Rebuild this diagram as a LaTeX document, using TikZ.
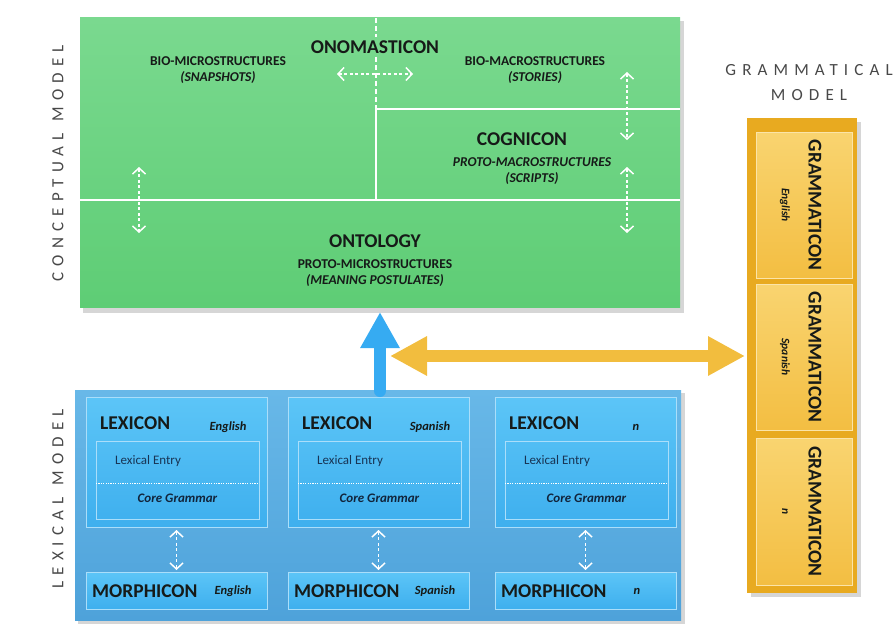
\documentclass[tikz,border=0pt]{standalone}
\usepackage{fontspec}
\setmainfont{Carlito}
\usetikzlibrary{arrows.meta}

\definecolor{greenT}{RGB}{122,217,143}
\definecolor{greenB}{RGB}{94,205,117}
\definecolor{blueOutT}{RGB}{104,184,232}
\definecolor{blueOutB}{RGB}{78,162,218}
\definecolor{blueInT}{RGB}{92,197,247}
\definecolor{blueInB}{RGB}{62,175,238}
\definecolor{blueEdge}{RGB}{170,222,250}
\definecolor{orangeOut}{RGB}{232,170,32}
\definecolor{orangeInT}{RGB}{249,212,112}
\definecolor{orangeInB}{RGB}{243,190,66}
\definecolor{orangeEdge}{RGB}{251,228,168}
\definecolor{orangeArrow}{RGB}{242,189,62}
\definecolor{blueArrow}{RGB}{54,171,242}
\definecolor{shadowGray}{RGB}{214,214,214}
\definecolor{labelGray}{RGB}{72,72,72}
\definecolor{ink}{RGB}{22,26,24}
\definecolor{navyInk}{RGB}{24,52,84}

\tikzset{
  rectnode/.style={inner sep=0pt, outer sep=0pt, anchor=north west, draw=none},
  title/.style={font=\bfseries\fontsize{19.5}{21}\selectfont, text=ink, inner sep=0pt},
  sub/.style={font=\bfseries\fontsize{13.5}{16}\selectfont, text=ink, align=center, inner sep=0pt},
  tag/.style={font=\bfseries\itshape\fontsize{12.5}{14}\selectfont, text=ink, inner sep=0pt},
  entry/.style={font=\fontsize{13}{15}\selectfont, text=navyInk, inner sep=0pt},
  sidelabel/.style={font=\fontsize{17}{25}\selectfont\addfontfeature{LetterSpace=36}, text=labelGray, inner sep=0pt, align=center},
  divider/.style={white, line width=2.2pt},
  dasharrow/.style={white, line width=1.5pt, dash pattern=on 3pt off 2.5pt,
    {Straight Barb[length=6pt,width=13pt,line width=1.5pt]}-{Straight Barb[length=6pt,width=13pt,line width=1.5pt]}},
  bluearrow/.style={blueArrow, line width=12pt, line cap=round, -{Triangle[length=36pt,width=37pt]}},
  orangearrow/.style={orangeArrow, line width=12pt, {Triangle[length=37pt,width=37pt]}-{Triangle[length=37pt,width=37pt]}},
}

\begin{document}
\begin{tikzpicture}[x=1pt,y=-1pt]
\useasboundingbox (0,0) rectangle (894,634);

% ---------- side labels ----------
\node[sidelabel, rotate=90] (lblcm) at (58,166) {CONCEPTUAL\hspace{0.7em}MODEL\kern-0.36em};
\node[sidelabel, rotate=90] (lbllm) at (58,502) {LEXICAL\hspace{0.7em}MODEL\kern-0.36em};
\node[sidelabel] (lblgm) at (806,83) {GRAMMATICAL\kern-0.36em\\MODEL\kern-0.36em};

% ---------- conceptual model ----------
\fill[shadowGray] (83,21) rectangle (684,313);
\node[rectnode, minimum width=600pt, minimum height=289pt, top color=greenT, bottom color=greenB] (concept) at (80,18) {};

\draw[divider] (80,200) -- (680,200);
\draw[divider] (376,200) -- (376,109) -- (680,109);
\draw[white, line width=2pt, dash pattern=on 5pt off 3pt] (376,18) -- (376,37);
\draw[white, line width=2pt, dash pattern=on 5pt off 3pt] (376,57) -- (376,109);

\node[title] (onom) at (375,47) {ONOMASTICON};
\node[sub] (biomic) at (218,70) {BIO-MICROSTRUCTURES\\\itshape (SNAPSHOTS)};
\node[sub] (biomac) at (535,70) {BIO-MACROSTRUCTURES\\\itshape (STORIES)};
\node[title] (cogn) at (522,139) {COGNICON};
\node[sub, font=\bfseries\itshape\fontsize{13.5}{16}\selectfont] (protomac) at (532,171) {PROTO-MACROSTRUCTURES\\(SCRIPTS)};
\node[title] (onto) at (375,241) {ONTOLOGY};
\node[sub] (protomic) at (375,273) {PROTO-MICROSTRUCTURES\\\itshape (MEANING POSTULATES)};

% dashed links inside the conceptual model
\coordinate (oL) at (337,74);
\coordinate (oR) at (413,74);
\draw[dasharrow] (oL) -- (oR);
\coordinate (r1t) at (627,72);
\coordinate (r1b) at (627,140);
\draw[dasharrow] (r1t) -- (r1b);
\coordinate (r2t) at (627,167);
\coordinate (r2b) at (627,233);
\draw[dasharrow] (r2t) -- (r2b);
\coordinate (l1t) at (139,167);
\coordinate (l1b) at (139,233);
\draw[dasharrow] (l1t) -- (l1b);

% ---------- lexical model ----------
\fill[shadowGray] (78,393) rectangle (685,624);
\node[rectnode, minimum width=606pt, minimum height=230pt, top color=blueOutT, bottom color=blueOutB] (lexmodel) at (75,390) {};

\foreach \i/\dx/\lang/\ldx/\mdx in {1/0/English/142/147, 2/202/Spanish/142/147, 3/409/n/141/142}{
  \node[rectnode, minimum width=181pt, minimum height=130pt, top color=blueInT, bottom color=blueInB, draw=blueEdge, line width=1pt] (lex\i) at (86+\dx,397) {};
  \node[rectnode, minimum width=163pt, minimum height=78pt, draw=blueEdge, line width=1pt] (core\i) at (96+\dx,441) {};
  \draw[white, line width=0.7pt, dash pattern=on 1.2pt off 1.2pt] (96+\dx,483) -- (259+\dx,483);
  \node[title, anchor=west] (lext\i) at (100+\dx,423) {LEXICON};
  \node[tag] (lexl\i) at (86+\ldx+\dx,427) {\lang};
  \node[entry, anchor=west] (entry\i) at (115+\dx,461) {Lexical Entry};
  \node[tag, font=\bfseries\itshape\fontsize{13}{15}\selectfont, text=navyInk!70!black] (cg\i) at (177.5+\dx,498) {Core Grammar};
  \node[rectnode, minimum width=181pt, minimum height=37pt, top color=blueInT, bottom color=blueInB, draw=blueEdge, line width=1pt] (morph\i) at (86+\dx,572) {};
  \node[title, anchor=west] (mort\i) at (92+\dx,591) {MORPHICON};
  \node[tag] (morl\i) at (86+\mdx+\dx,591) {\lang};
  \draw[dasharrow] ([yshift=-3pt]lex\i.south) -- ([yshift=2pt]morph\i.north);
}

% ---------- grammatical model ----------
\fill[shadowGray] (751,122) rectangle (861,597);
\node[rectnode, minimum width=110pt, minimum height=475pt, fill=orangeOut] (gram) at (747,118) {};
\foreach \i/\top/\h/\lang in {1/132/146/English, 2/284/146/Spanish, 3/438/147/n}{
  \node[rectnode, minimum width=96pt, minimum height=\h pt, top color=orangeInT, bottom color=orangeInB, draw=orangeEdge, line width=0.8pt] (gbox\i) at (756,\top) {};
  \node[title, rotate=-90] (gt\i) at (815,\top+\h/2) {GRAMMATICON};
  \node[tag, font=\bfseries\itshape\fontsize{11.5}{13}\selectfont, rotate=-90] (gl\i) at (785,\top+\h/2) {\lang};
}

% ---------- links between the models ----------
\coordinate (axis) at (380,0);
\draw[bluearrow] ([yshift=-1pt]lexmodel.north -| axis) -- ([yshift=-5pt]concept.south -| axis);
\coordinate (oa) at (390,356);
\draw[orangearrow] (oa) -- ([xshift=-2pt]gram.west |- oa);
\end{tikzpicture}
\end{document}
